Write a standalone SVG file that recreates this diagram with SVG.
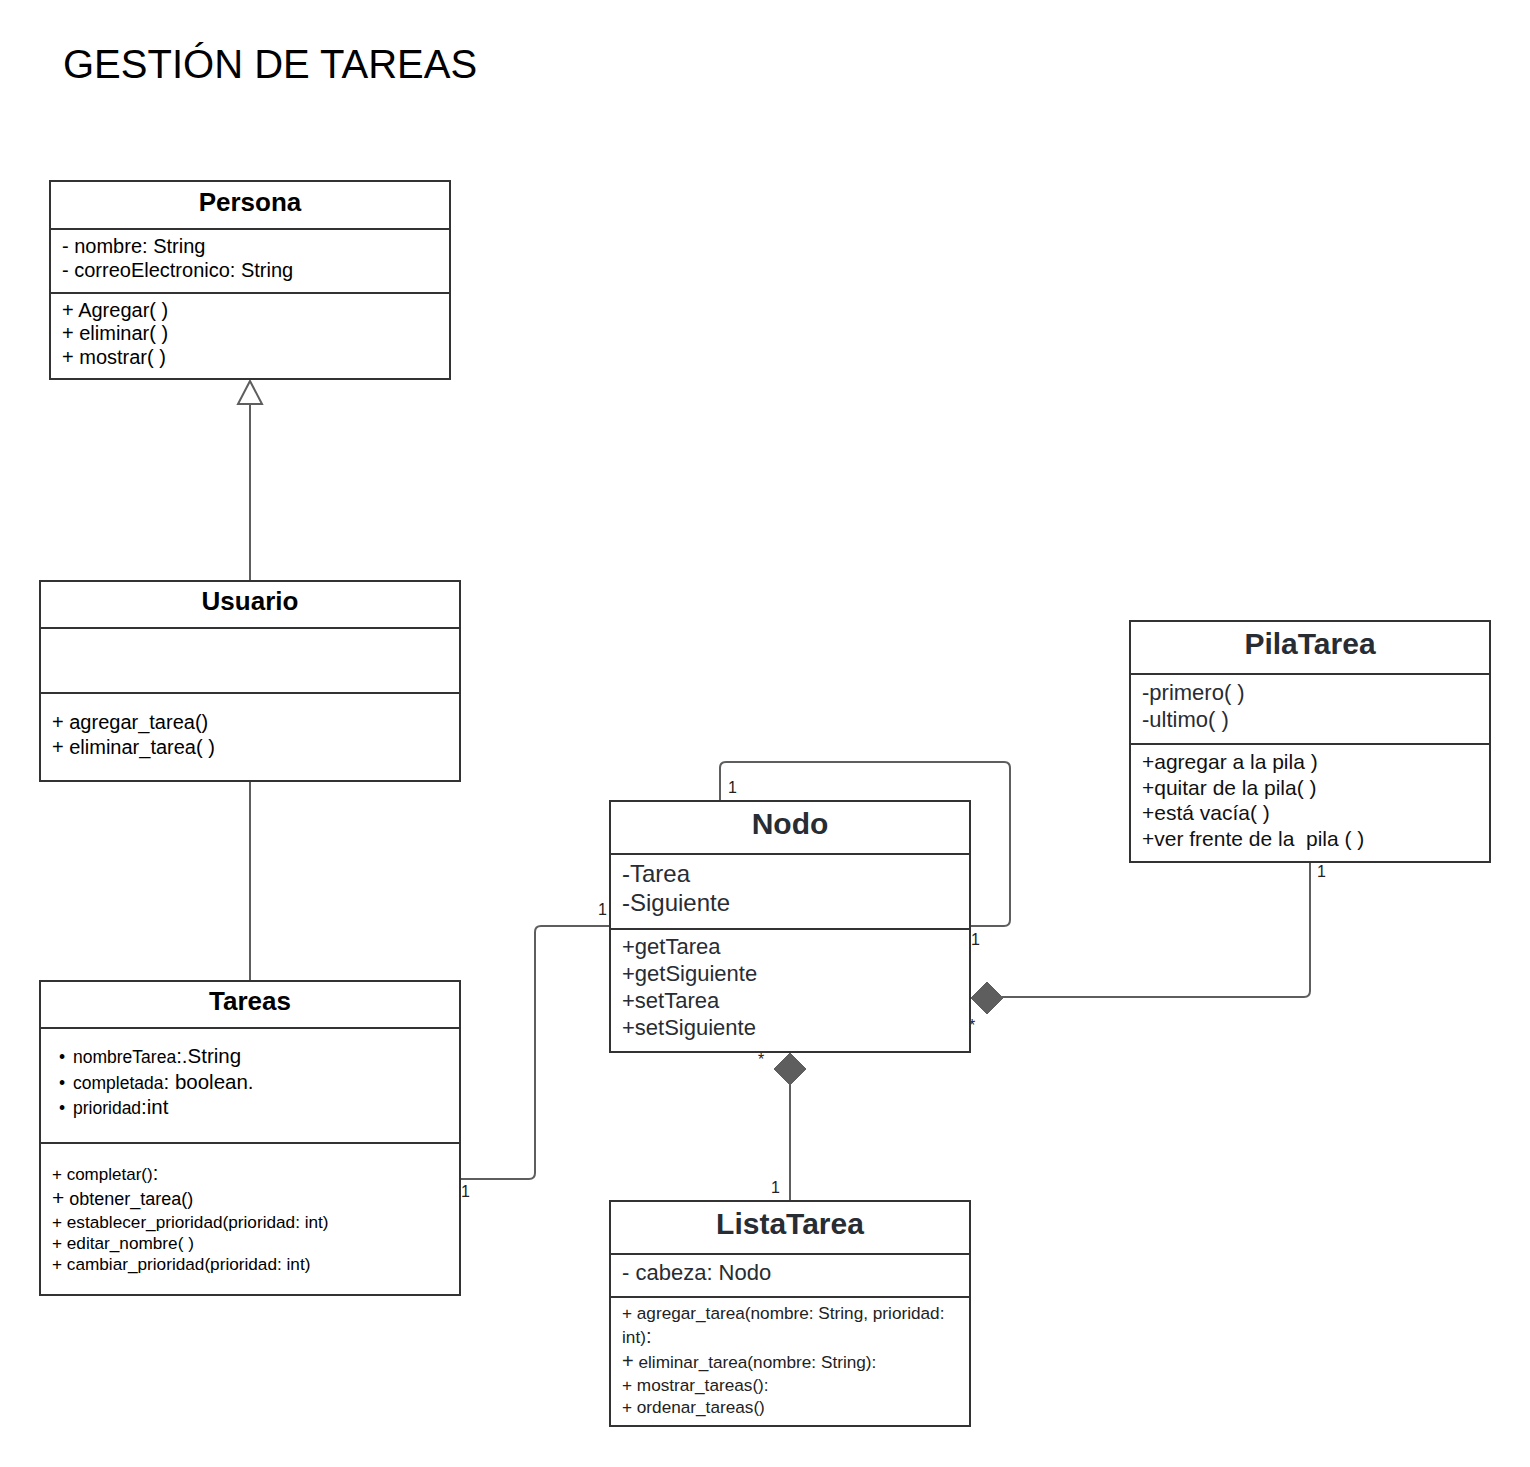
<svg xmlns="http://www.w3.org/2000/svg" width="1530" height="1467" viewBox="0 0 1530 1467">
<style>
text{font-family:"Liberation Sans",Arial,sans-serif;fill:#000;white-space:pre}
.box{fill:#fff;stroke:#333;stroke-width:2}
.div{stroke:#333;stroke-width:2}
.t1{font-size:26px;font-weight:bold;text-anchor:middle}
.t2{font-size:30px;font-weight:bold;text-anchor:middle;fill:#282c33}
.a20{font-size:20px}
.a17{font-size:17.5px}
.d22{font-size:23px;fill:#282c33}
.d21{font-size:22px;fill:#282c33}
.d20{font-size:21px;fill:#111}
.conn{fill:none;stroke:#5e5e5e;stroke-width:2;stroke-linejoin:round}
.lbl{font-size:16px;fill:#222}
.dia{fill:#5e5e5e;stroke:#5e5e5e;stroke-width:1}
</style>
<rect width="1530" height="1467" fill="#fff"/>
<text x="63" y="78" style="font-size:40px">GESTIÓN DE TAREAS</text>

<g id="connectors">
  <line class="conn" x1="250" y1="581" x2="250" y2="404"/>
  <polygon points="250,381 262,404 238,404" fill="#fff" stroke="#5e5e5e" stroke-width="2"/>
  <line class="conn" x1="250" y1="781" x2="250" y2="981"/>
  <path class="conn" d="M460,1179 H529 Q535,1179 535,1173 V932 Q535,926 541,926 H610"/>
  <text class="lbl" x="461" y="1197">1</text>
  <text class="lbl" x="598" y="915">1</text>
  <path class="conn" d="M720,801 V768 Q720,762 726,762 H1004 Q1010,762 1010,768 V920 Q1010,926 1004,926 H970"/>
  <text class="lbl" x="728" y="793">1</text>
  <text class="lbl" x="971" y="945">1</text>
  <path class="conn" d="M1310,862 V991 Q1310,997 1304,997 H1002"/>
  <polygon class="dia" points="971,998 987,982 1003,998 987,1014"/>
  <text class="lbl" x="1317" y="877">1</text>
  <text class="lbl" x="969" y="1031">*</text>
  <line class="conn" x1="790" y1="1201" x2="790" y2="1084"/>
  <polygon class="dia" points="790,1053 806,1069 790,1085 774,1069"/>
  <text class="lbl" x="771" y="1193">1</text>
  <text class="lbl" x="758" y="1065">*</text>
</g>

<g id="Persona">
  <rect class="box" x="50" y="181" width="400" height="198"/>
  <line class="div" x1="50" y1="229" x2="450" y2="229"/>
  <line class="div" x1="50" y1="293" x2="450" y2="293"/>
  <text class="t1" x="250" y="211">Persona</text>
  <text class="a20" x="62" y="253">- nombre: String</text>
  <text class="a20" x="62" y="277">- correoElectronico: String</text>
  <text class="a20" x="62" y="317">+ Agregar( )</text>
  <text class="a20" x="62" y="340">+ eliminar( )</text>
  <text class="a20" x="62" y="364">+ mostrar( )</text>
</g>

<g id="Usuario">
  <rect class="box" x="40" y="581" width="420" height="200"/>
  <line class="div" x1="40" y1="628" x2="460" y2="628"/>
  <line class="div" x1="40" y1="693" x2="460" y2="693"/>
  <text class="t1" x="250" y="610">Usuario</text>
  <text class="a20" x="52" y="729">+ agregar_tarea()</text>
  <text class="a20" x="52" y="754">+ eliminar_tarea( )</text>
</g>

<g id="Tareas">
  <rect class="box" x="40" y="981" width="420" height="314"/>
  <line class="div" x1="40" y1="1028" x2="460" y2="1028"/>
  <line class="div" x1="40" y1="1143" x2="460" y2="1143"/>
  <text class="t1" x="250" y="1010">Tareas</text>
  <text class="a17" x="59" y="1063">•</text>
  <text class="a17" x="73" y="1063">nombreTarea<tspan style="font-size:20.5px">:.String</tspan></text>
  <text class="a17" x="59" y="1089">•</text>
  <text class="a17" x="73" y="1089">completada<tspan style="font-size:20.5px">: boolean.</tspan></text>
  <text class="a17" x="59" y="1114">•</text>
  <text class="a17" x="73" y="1114">prioridad<tspan style="font-size:20.5px">:int</tspan></text>
  <text class="a17" x="52" y="1180" style="font-size:17px">+ completar()<tspan style="font-size:20px">:</tspan></text>
  <text class="a17" x="52" y="1205" style="font-size:18px"><tspan style="font-size:21px">+</tspan> obtener_tarea()</text>
  <text class="a17" x="52" y="1228" style="font-size:17.2px">+ establecer_prioridad(prioridad: int)</text>
  <text class="a17" x="52" y="1249" style="font-size:17.2px">+ editar_nombre( )</text>
  <text class="a17" x="52" y="1270" style="font-size:17.2px">+ cambiar_prioridad(prioridad: int)</text>
</g>

<g id="Nodo">
  <rect class="box" x="610" y="801" width="360" height="251"/>
  <line class="div" x1="610" y1="854" x2="970" y2="854"/>
  <line class="div" x1="610" y1="929" x2="970" y2="929"/>
  <text class="t2" x="790" y="834">Nodo</text>
  <text class="d22" x="622" y="882" style="font-size:24px">-Tarea</text>
  <text class="d22" x="622" y="911" style="font-size:24px">-Siguiente</text>
  <text class="d21" x="622" y="954">+getTarea</text>
  <text class="d21" x="622" y="981">+getSiguiente</text>
  <text class="d21" x="622" y="1008">+setTarea</text>
  <text class="d21" x="622" y="1035">+setSiguiente</text>
</g>

<g id="PilaTarea">
  <rect class="box" x="1130" y="621" width="360" height="241"/>
  <line class="div" x1="1130" y1="674" x2="1490" y2="674"/>
  <line class="div" x1="1130" y1="744" x2="1490" y2="744"/>
  <text class="t2" x="1310" y="654">PilaTarea</text>
  <text class="d21" x="1142" y="700">-primero( )</text>
  <text class="d21" x="1142" y="727">-ultimo( )</text>
  <text class="d20" x="1142" y="769">+agregar a la pila )</text>
  <text class="d20" x="1142" y="795">+quitar de la pila( )</text>
  <text class="d20" x="1142" y="820">+está vacía( )</text>
  <text class="d20" x="1142" y="846">+ver frente de la  pila ( )</text>
</g>

<g id="ListaTarea">
  <rect class="box" x="610" y="1201" width="360" height="225"/>
  <line class="div" x1="610" y1="1254" x2="970" y2="1254"/>
  <line class="div" x1="610" y1="1297" x2="970" y2="1297"/>
  <text class="t2" x="790" y="1234">ListaTarea</text>
  <text class="d21" x="622" y="1280">- cabeza: Nodo</text>
  <text x="622" y="1319" style="font-size:17.2px;fill:#222">+ agregar_tarea(nombre: String, prioridad:</text>
  <text x="622" y="1343" style="font-size:17.2px;fill:#222">int)<tspan style="font-size:20px">:</tspan></text>
  <text x="622" y="1368" style="font-size:17.2px;fill:#222"><tspan style="font-size:20px">+</tspan> eliminar_tarea(nombre: String):</text>
  <text x="622" y="1391" style="font-size:17.2px;fill:#222">+ mostrar_tareas():</text>
  <text x="622" y="1413" style="font-size:17.2px;fill:#222">+ ordenar_tareas()</text>
</g>
</svg>
